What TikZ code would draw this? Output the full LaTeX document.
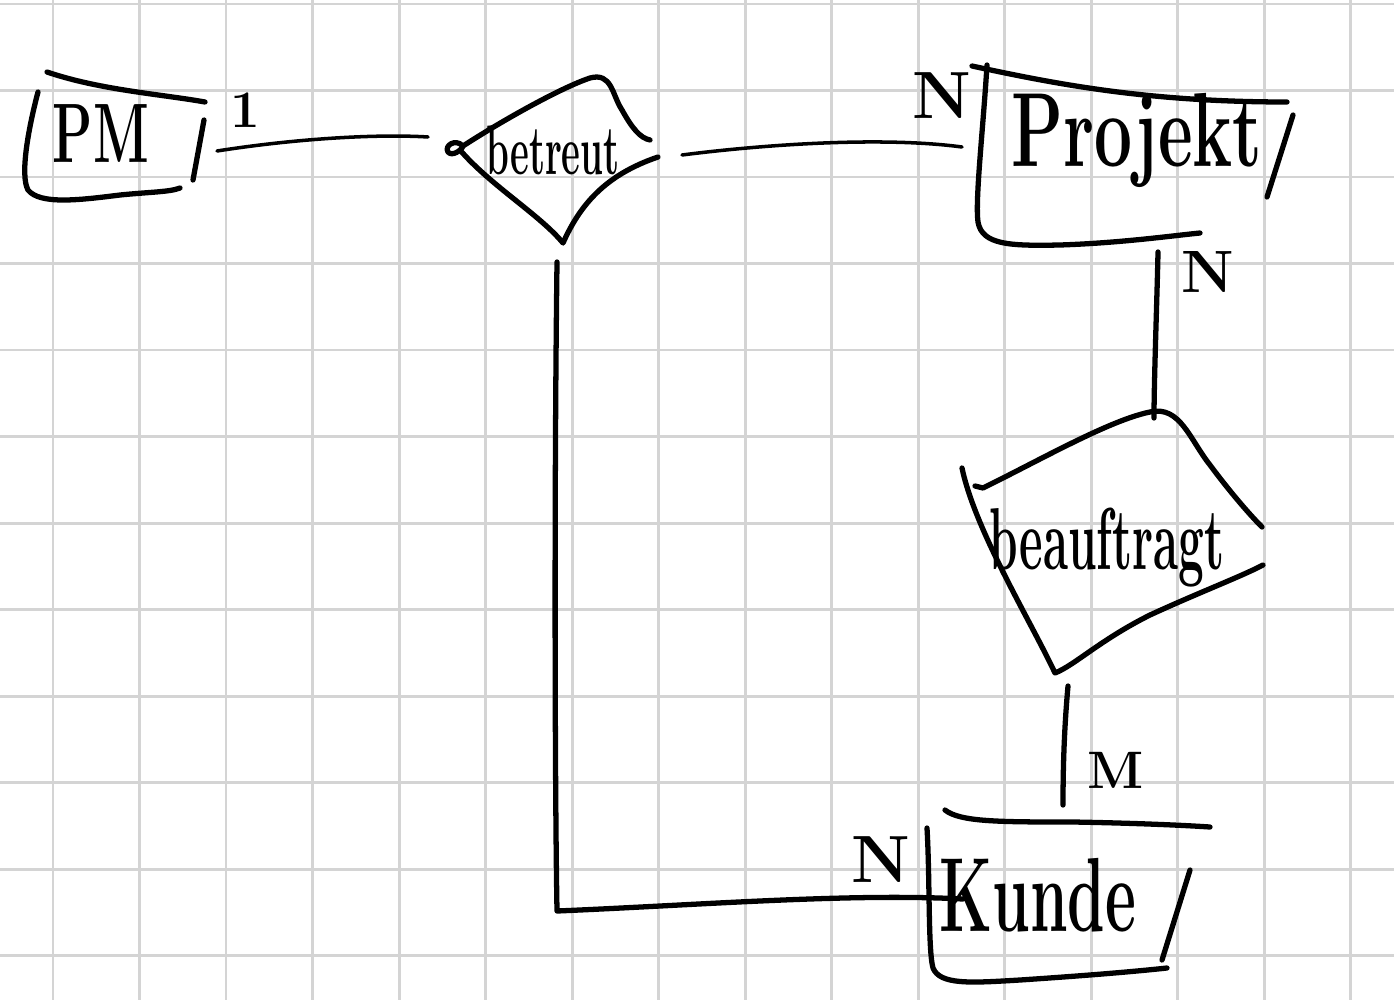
\documentclass[tikz,border=0pt]{standalone}
\usepackage{graphicx}
\definecolor{gridgray}{RGB}{212,212,212}
\newcommand{\hwtext}[3]{\fontsize{#1}{#1}\selectfont\bfseries\scalebox{#2}[1]{#3}}
\begin{document}
\begin{tikzpicture}[x=0.01cm,y=-0.01cm,
  ink/.style={line width=1.5pt, line cap=round, line join=round},
  conn/.style={line width=1.0pt, line cap=round, line join=round},
  gridline/.style={draw=gridgray, line width=0.85pt},
  lbl/.style={inner sep=0pt, anchor=center},
  card/.style={inner sep=0pt, anchor=center, font=\bfseries}]
\fill[white] (0,0) rectangle (1394,1000);
\useasboundingbox (0,0) rectangle (1394,1000);
% grid paper
\foreach \i in {0,...,15} \draw[gridline] ({53+86.5*\i},0) -- ({53+86.5*\i},1000);
\foreach \j in {0,...,11} \draw[gridline] (0,{4+86.5*\j}) -- (1394,{4+86.5*\j});

% ---------- labels ----------
\node[lbl] (pm) at (101,134) {\hwtext{24}{0.62}{PM}};
\node[lbl] (betreut) at (553,150) {\hwtext{20}{0.52}{betreut}};
\node[lbl] (projekt) at (1137,140) {\hwtext{30}{0.64}{Projekt}};
\node[lbl] (beauftragt) at (1107,548) {\hwtext{25}{0.52}{beauftragt}};
\node[lbl] (kunde) at (1038,895) {\hwtext{30}{0.57}{Kunde}};

\node[card] (c1) at (245,110) {\fontsize{15}{15}\selectfont 1};
\node[card] (c2) at (942,96) {\fontsize{19}{19}\selectfont N};
\node[card] (c3) at (1208,272) {\fontsize{17}{17}\selectfont N};
\node[card] (c4) at (1116,770) {\fontsize{15}{15}\selectfont M};
\node[card] (c5) at (881,860) {\fontsize{19}{19}\selectfont N};

% ---------- PM entity ----------
\draw[ink] (47,72) .. controls (100,90) and (160,94) .. (205,102);
\draw[ink] (38,92) .. controls (28,130) and (20,175) .. (28,190)
  .. controls (40,205) and (80,200) .. (120,195)
  .. controls (150,192) and (170,192) .. (180,188);
\draw[ink] (204,120) -- (193,180);

% ---------- betreut relationship ----------
\draw[ink] (463,146) .. controls (455,138) and (444,146) .. (448,152)
  .. controls (452,157) and (462,150) .. (463,146)
  .. controls (500,122) and (560,88) .. (590,78)
  .. controls (612,72) and (612,95) .. (622,110)
  .. controls (632,128) and (640,138) .. (650,140);
\draw[ink] (460,150) .. controls (490,185) and (540,215) .. (563,243)
  .. controls (580,205) and (605,175) .. (658,157);

% ---------- Projekt entity ----------
\draw[ink] (972,66) .. controls (1060,85) and (1150,102) .. (1287,102);
\draw[ink] (987,65) .. controls (983,130) and (975,200) .. (978,222)
  .. controls (982,245) and (1010,246) .. (1060,245)
  .. controls (1120,243) and (1170,236) .. (1200,233);
\draw[ink] (1293,115) -- (1267,197);

% ---------- beauftragt relationship ----------
\draw[ink] (975,486) -- (983,488) .. controls (1040,460) and (1110,420) .. (1150,412)
  .. controls (1180,405) and (1190,440) .. (1210,465)
  .. controls (1230,492) and (1250,515) .. (1262,527);
\draw[ink] (962,468) .. controls (975,530) and (1030,620) .. (1055,673)
  .. controls (1075,665) and (1100,640) .. (1150,615)
  .. controls (1200,592) and (1240,577) .. (1263,565);

% ---------- Kunde entity ----------
\draw[ink] (945,810) .. controls (960,822) and (1000,822) .. (1073,822)
  .. controls (1130,823) and (1180,825) .. (1210,827);
\draw[ink] (927,828) .. controls (930,880) and (928,950) .. (933,968)
  .. controls (940,985) and (970,983) .. (1020,980)
  .. controls (1080,976) and (1130,972) .. (1167,968);
\draw[ink] (1190,870) -- (1162,960);

% ---------- connectors ----------
\coordinate (pmE) at (217,151);
\coordinate (beW) at (428,137);
\coordinate (beE) at (682,155);
\coordinate (prW) at (962,147);
\coordinate (prS) at (1158,252);
\coordinate (baN) at (1154,418);
\coordinate (baS) at (1068,686);
\coordinate (kuN) at (1063,805);
\coordinate (beS) at (557,262);
\coordinate (corner) at (557,911);
\coordinate (kuW) at (963,899);

\draw[conn] (pmE) .. controls (300,138) and (380,134) .. (beW);
\draw[conn] (beE) .. controls (760,145) and (880,136) .. (prW);
\draw[ink] (prS) .. controls (1157,300) and (1154,380) .. (baN);
\draw[ink] (baS) .. controls (1064,730) and (1063,770) .. (kuN);
\draw[ink] (beS) .. controls (554,500) and (555,800) .. (corner)
  .. controls (700,905) and (850,893) .. (kuW);
\end{tikzpicture}
\end{document}
